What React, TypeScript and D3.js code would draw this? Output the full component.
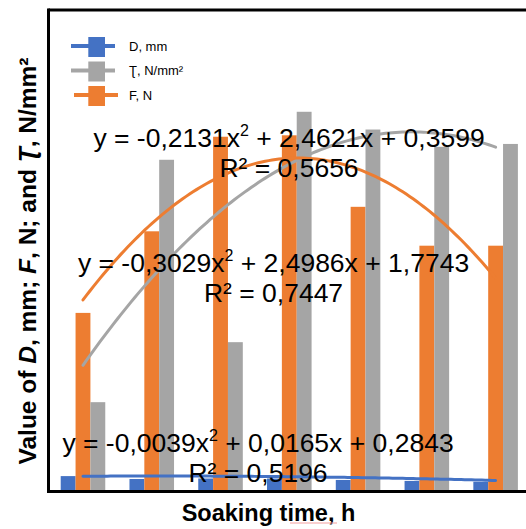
import React from 'react';
import * as d3 from 'd3';

const categories = ['1', '2', '3', '4', '5', '6', '7'];
const seriesKeys = ['D', 'F', 'T'];
const dValues = [0.3, 0.24, 0.25, 0.25, 0.22, 0.2, 0.18];
const fValues = [3.7, 5.4, 7.37, 7.4, 5.91, 5.1, 5.1];
const tauValues = [1.84, 6.89, 3.09, 7.89, 7.52, 7.16, 7.22];
const dTrend = [-0.0039, 0.0165, 0.2843];
const fTrend = [-0.3029, 2.4986, 1.7743];
const tauTrend = [-0.2131, 2.4621, 0.3599];
const dEq = ['y = -0,0039x', '2', ' + 0,0165x + 0,2843', 'R² = 0,5196'];
const fEq = ['y = -0,3029x', '2', ' + 2,4986x + 1,7743', 'R² = 0,7447'];
const tauEq = ['y = -0,2131x', '2', ' + 2,4621x + 0,3599', 'R² = 0,5656'];
const legendLabels = ['D, mm', 'Ʈ, N/mm²', 'F, N'];
const yDomain = [0, 10];

const BLUE = '#4472C4';
const ORANGE = '#ED7D31';
const GRAY = '#A5A5A5';
const FONT = '"Liberation Sans", Arial, sans-serif';

export default function App() {
  const W = 526, H = 529;
  const left = 48.6, right = 530, top = 10.5, bottom = 490.5;
  const x0 = d3.scaleBand().domain(categories).range([left, right]).paddingInner(0.352).paddingOuter(0.176);
  const x1 = d3.scaleBand().domain(seriesKeys).range([0, x0.bandwidth()]);
  const y = d3.scaleLinear().domain(yDomain).range([bottom, top]);
  const xc = d3.scaleLinear().domain([1, categories.length])
    .range([x0(categories[0])! + x0.bandwidth() / 2, x0(categories[categories.length - 1])! + x0.bandwidth() / 2]);

  const series = [
    { key: 'D', values: dValues, color: BLUE },
    { key: 'F', values: fValues, color: ORANGE },
    { key: 'T', values: tauValues, color: GRAY },
  ];

  const ts = d3.range(1, categories.length + 0.001, 0.05);
  const trendPath = (c: number[]) =>
    d3.line<number>().x(t => xc(t)).y(t => y(c[0] * t * t + c[1] * t + c[2]))(ts) || '';

  const eq = (e: string[], cx: number, by: number) => (
    <g fontFamily={FONT} fontSize={26.5} fill="#000" textAnchor="middle">
      <text x={cx} y={by}>
        <tspan>{e[0]}</tspan>
        <tspan fontSize={16} dy={-11}>{e[1]}</tspan>
        <tspan dy={11}>{e[2]}</tspan>
      </text>
      <text x={cx} y={by + 30}>{e[3]}</text>
    </g>
  );

  const legendColors = [BLUE, GRAY, ORANGE];
  const legendY = [46, 70.5, 95];
  const legendLine = [[71, 115], [71, 115], [74, 118]];

  return (
    <svg width={W} height={H} style={{ position: 'absolute', left: 0, top: 0, background: '#fff' }}>
      <rect x={0} y={0} width={W} height={H} fill="#fff" />
      {series.map(s => (
        <g key={s.key}>
          {s.values.map((v, i) => (
            <rect key={i} x={x0(categories[i])! + x1(s.key)!} y={y(v)} width={x1.bandwidth()} height={y(0) - y(v)} fill={s.color} />
          ))}
        </g>
      ))}
      <path d={trendPath(dTrend)} fill="none" stroke={BLUE} strokeWidth={3} strokeLinecap="round" />
      <path d={trendPath(tauTrend)} fill="none" stroke={GRAY} strokeWidth={3} strokeLinecap="round" />
      <path d={trendPath(fTrend)} fill="none" stroke={ORANGE} strokeWidth={3} strokeLinecap="round" />
      {/* frame */}
      <line x1={48.5} x2={W} y1={10} y2={10} stroke="#000" strokeWidth={3} />
      <line x1={48.5} x2={48.5} y1={8.5} y2={493} stroke="#000" strokeWidth={3} />
      <line x1={47} x2={W} y1={491.5} y2={491.5} stroke="#000" strokeWidth={3} />
      {eq(tauEq, 289, 147)}
      {eq(fEq, 273.5, 272)}
      {eq(dEq, 258, 451.5)}
      {/* legend */}
      <g fontFamily={FONT} fontSize={13}>
        {legendLabels.map((l, i) => (
          <g key={l}>
            <line x1={legendLine[i][0]} x2={legendLine[i][1]} y1={legendY[i]} y2={legendY[i]} stroke={legendColors[i]} strokeWidth={4} />
            <rect x={88.3} y={legendY[i] - 9} width={16.7} height={20} fill={legendColors[i]} />
            <text x={129} y={legendY[i] + 4.5} fill="#000">{l}</text>
          </g>
        ))}
      </g>
      {/* axis titles */}
      <text x={268.5} y={520.5} textAnchor="middle" fontFamily={FONT} fontWeight="bold" fontSize={23.5} fill="#000">Soaking time, h</text>
      <line x1={290} x2={337} y1={523} y2={523} stroke="#f4a0a0" strokeWidth={1} />
      <text transform="translate(36,261) rotate(-90)" textAnchor="middle" fontFamily={FONT} fontWeight="bold" fontSize={24.5} fill="#000">
        <tspan>Value of </tspan>
        <tspan fontStyle="italic">D</tspan>
        <tspan>, mm; </tspan>
        <tspan fontStyle="italic">F</tspan>
        <tspan>, N; and </tspan>
        <tspan fontStyle="italic">Ʈ</tspan>
        <tspan>, N/mm²</tspan>
      </text>
    </svg>
  );
}
